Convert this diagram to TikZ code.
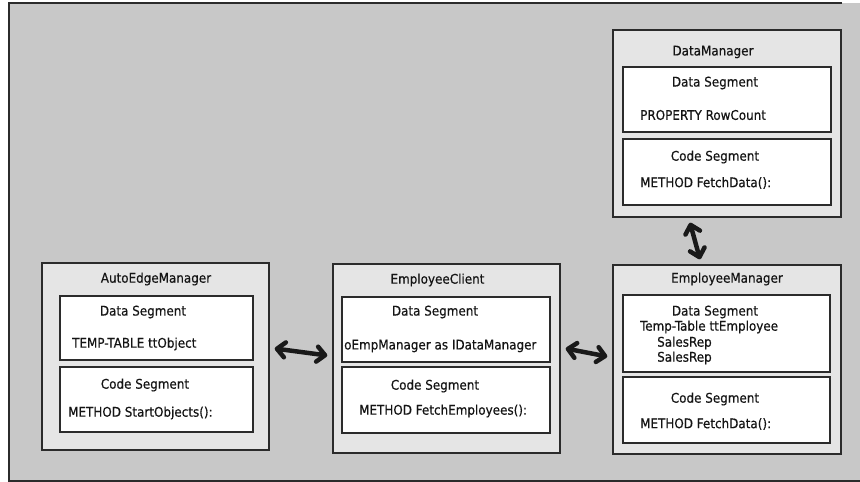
\documentclass[tikz,border=0pt]{standalone}
\usepackage{fontspec}
\setmainfont{DejaVu Sans Condensed}[FakeBold=0.4]
\usetikzlibrary{arrows.meta,calc}

\definecolor{canvasgray}{HTML}{C8C8C8}
\definecolor{classfill}{HTML}{E5E5E5}
\definecolor{inkline}{HTML}{2B2B2B}
\definecolor{inktext}{HTML}{141414}

\tikzset{
  classbox/.style={rectangle, draw=inkline, line width=1.4pt, fill=classfill, inner sep=0pt},
  segbox/.style={rectangle, draw=inkline, line width=1.4pt, fill=white, inner sep=0pt},
  lbl/.style={inner sep=0pt, text=inktext, font=\fontsize{13.3}{15}\selectfont},
  lblw/.style={lbl, anchor=west},
  link/.style={draw=black!90, line width=4.5pt, line cap=round,
    {Straight Barb[length=8pt,width=15pt,round]}-{Straight Barb[length=8pt,width=15pt,round]}},
}

\begin{document}
\begin{tikzpicture}[x=1pt,y=-1pt]
\useasboundingbox (0,0) rectangle (860,482);

% canvas
\fill[white] (0,0) rectangle (860,482);
\fill[canvasgray] (9,3) rectangle (860,481);
\draw[inkline, line width=1.4pt] (842,3) -- (9,3) -- (9,481) -- (860,481);

% DataManager
\node[classbox, minimum width=228pt, minimum height=187pt] (dm) at (727,123.5) {};
\node[segbox, minimum width=208pt, minimum height=65pt] (dmdata) at (727,99.5) {};
\node[segbox, minimum width=208pt, minimum height=66pt] (dmcode) at (727,172) {};
\node[lbl] (dmtitle) at (713,52) {DataManager};
\node[lbl] (dmdh) at (715,83) {Data Segment};
\node[lblw] (dmprop) at (640,115) {PROPERTY RowCount};
\node[lbl] (dmch) at (715,157) {Code Segment};
\node[lblw] (dmmeth) at (640,183) {METHOD FetchData():};

% EmployeeManager
\node[classbox, minimum width=228pt, minimum height=189pt] (em) at (727,359.5) {};
\node[segbox, minimum width=207pt, minimum height=77pt] (emdata) at (726.5,333.5) {};
\node[segbox, minimum width=207pt, minimum height=66pt] (emcode) at (726.5,410) {};
\node[lbl] (emtitle) at (727,279) {EmployeeManager};
\node[lbl] (emdh) at (715,312) {Data Segment};
\node[lblw] (emtt) at (640,327) {Temp-Table ttEmployee};
\node[lblw] (emsr1) at (657,343) {SalesRep};
\node[lblw] (emsr2) at (657,358) {SalesRep};
\node[lbl] (emch) at (715,399) {Code Segment};
\node[lblw] (emmeth) at (640,424) {METHOD FetchData():};

% EmployeeClient
\node[classbox, minimum width=227pt, minimum height=189pt] (ec) at (446.5,358.5) {};
\node[segbox, minimum width=208pt, minimum height=65pt] (ecdata) at (446,329.5) {};
\node[segbox, minimum width=208pt, minimum height=66pt] (eccode) at (446,400) {};
\node[lbl] (ectitle) at (437.5,280) {EmployeeClient};
\node[lbl] (ecdh) at (435,312) {Data Segment};
\node[lblw] (ecvar) at (344,346) {oEmpManager as IDataManager};
\node[lbl] (ecch) at (435,386) {Code Segment};
\node[lblw] (ecmeth) at (359,411) {METHOD FetchEmployees():};

% AutoEdgeManager
\node[classbox, minimum width=227pt, minimum height=187pt] (ae) at (155.5,356.5) {};
\node[segbox, minimum width=193pt, minimum height=64pt] (aedata) at (156.5,328) {};
\node[segbox, minimum width=193pt, minimum height=65pt] (aecode) at (156.5,399.5) {};
\node[lbl] (aetitle) at (156,279) {AutoEdgeManager};
\node[lbl] (aedh) at (143,312) {Data Segment};
\node[lblw] (aett) at (72,344) {TEMP-TABLE ttObject};
\node[lbl] (aech) at (145,385) {Code Segment};
\node[lblw] (aemeth) at (68,413) {METHOD StartObjects():};

% connectors
\draw[link] ($(ae.east)+(5,-8)$) -- ($(ec.west)+(-5,-3)$);
\draw[link] ($(ec.east)+(5,-10)$) -- ($(em.west)+(-5,-3)$);
\draw[link] ($(dm.south)+(-37,5)$) -- ($(em.north)+(-27,-5)$);
\end{tikzpicture}
\end{document}
